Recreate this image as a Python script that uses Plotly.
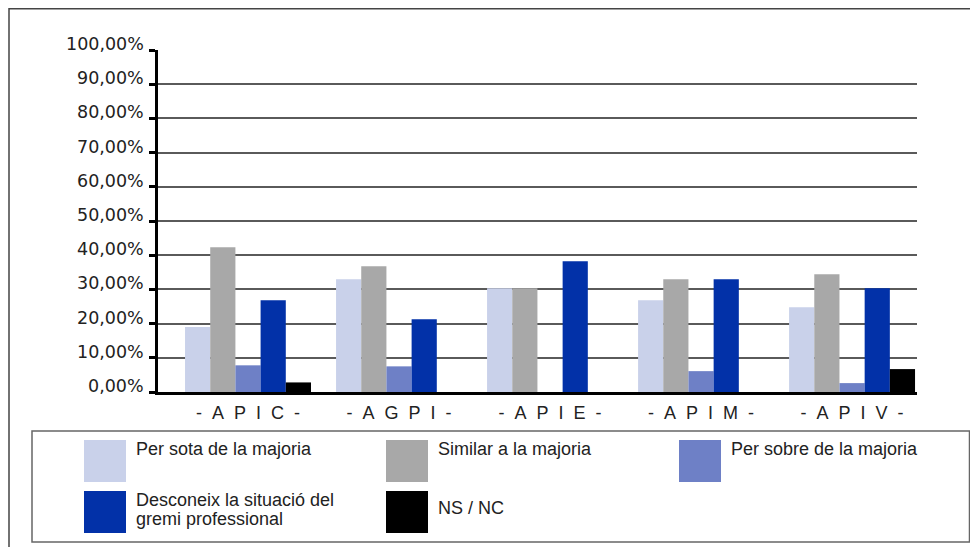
import plotly.graph_objects as go

categories = ["APIC", "AGPI", "APIE", "APIM", "APIV"]
series_names = ["Per sota de la majoria", "Similar a la majoria", "Per sobre de la majoria",
                "Desconeix la situació del<br>gremi professional", "NS / NC"]
per_sota = [19.0, 33.0, 30.3, 26.8, 24.8]
similar = [42.3, 36.8, 30.3, 33.0, 34.4]
per_sobre = [7.8, 7.5, 0.0, 6.1, 2.6]
desconeix = [26.8, 21.3, 38.2, 33.0, 30.3]
ns_nc = [2.8, 0.0, 0.0, 0.0, 6.7]
colors = ["#C9D1EA", "#A8A8A8", "#6E80C6", "#0231A8", "#000000"]
y_tickvals = [0, 10, 20, 30, 40, 50, 60, 70, 80, 90, 100]
y_ticktext = ["0,00%", "10,00%", "20,00%", "30,00%", "40,00%", "50,00%",
              "60,00%", "70,00%", "80,00%", "90,00%", "100,00%"]

series = [per_sota, similar, per_sobre, desconeix, ns_nc]

OFF = 8  # page body margin
W, H = 978 - OFF, 547 - OFF
# plot area in page pixels
PL, PR, PT, PB = 158, 917, 50, 392
L, R, T, B = PL - OFF, PR - OFF, PT - OFF, PB - OFF


def xp(px):
    return (px - OFF - L) / (R - L)


def yp(py):
    return (B - (py - OFF)) / (B - T)


fig = go.Figure()
xs = list(range(len(categories)))
for name, vals, col in zip(series_names, series, colors):
    fig.add_trace(go.Bar(x=xs, y=vals, name=name.replace("<br>", " "),
                         marker=dict(color=col, line=dict(width=0)),
                         showlegend=False, hoverinfo="y"))

nb = "\u00a0"
sp = nb + nb
xlabels = ["-" + sp + sp.join(list(c)) + sp + "-" for c in categories]

shapes = []
annotations = []
# outer frame
shapes.append(dict(type="rect", xref="paper", yref="paper",
                   x0=xp(9), x1=xp(1010), y0=yp(8.75), y1=yp(600),
                   line=dict(color="#444", width=1.5), layer="below"))
# legend box
shapes.append(dict(type="rect", xref="paper", yref="paper",
                   x0=xp(32), x1=xp(969.5), y0=yp(431), y1=yp(542),
                   line=dict(color="#666", width=1.5), fillcolor="rgba(0,0,0,0)"))

leg_pos = [(84, 440), (386, 440), (679, 440), (84, 491), (386, 491)]
for (sx, sy), name, col in zip(leg_pos, series_names, colors):
    shapes.append(dict(type="rect", xref="paper", yref="paper",
                       x0=xp(sx), x1=xp(sx + 42), y0=yp(sy), y1=yp(sy + 42),
                       line=dict(width=0), fillcolor=col))
    lines = name.split("<br>")
    if name == "NS / NC":
        tops = [sy + 6]
    elif len(lines) == 2:
        tops = [sy - 2, sy + 16.5]
    else:
        tops = [sy - 2]
    for ln, ty in zip(lines, tops):
        annotations.append(dict(xref="paper", yref="paper", x=xp(sx + 51), y=yp(ty),
                                xanchor="left", yanchor="top", text=ln, showarrow=False,
                                font=dict(family="Liberation Sans", size=18, color="#222"),
                                borderpad=0))

# y tick labels sit just above their tick marks
for v, t in zip(y_tickvals, y_ticktext):
    annotations.append(dict(xref="paper", yref="y", x=xp(145), y=v, xanchor="right",
                            yanchor="middle", yshift=6, text=t, showarrow=False,
                            font=dict(family="DejaVu Sans", size=17.5, color="#222"),
                            borderpad=0))

fig.update_layout(
    width=W, height=H,
    margin=dict(l=L, r=W - R, t=T, b=H - B, pad=0),
    paper_bgcolor="white", plot_bgcolor="white",
    barmode="group", bargap=0.166, bargroupgap=0,
    shapes=shapes, annotations=annotations,
    xaxis=dict(range=[-0.596, 4.430], tickmode="array", tickvals=xs, ticktext=xlabels,
               showgrid=False, zeroline=False, showline=True, linecolor="black", linewidth=3,
               ticks="", ticklabelstandoff=2,
               tickfont=dict(family="Liberation Sans", size=18, color="#222"), fixedrange=True),
    yaxis=dict(range=[0, 100], tickmode="array", tickvals=y_tickvals, showticklabels=False,
               showgrid=True, gridcolor="#5a5a5a", gridwidth=1.5, zeroline=False,
               showline=True, linecolor="black", linewidth=3,
               ticks="outside", ticklen=6, tickwidth=3, tickcolor="black", fixedrange=True),
)

fig.write_html("out.html", config={"displayModeBar": False})
